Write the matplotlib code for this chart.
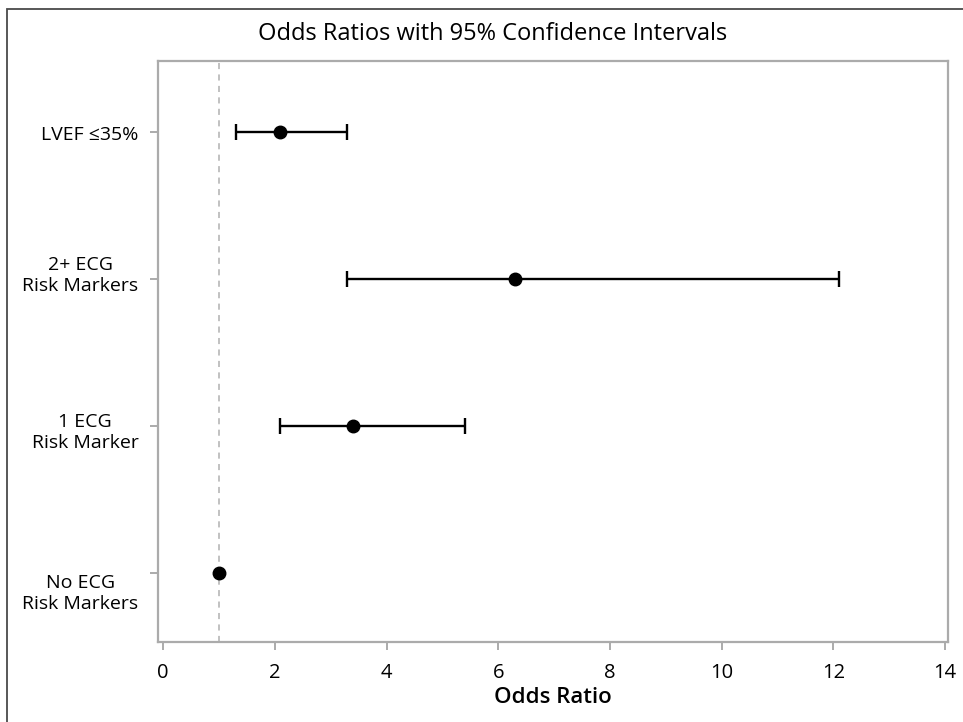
import matplotlib
matplotlib.use("Agg")
import matplotlib.pyplot as plt
from matplotlib.patches import Rectangle
from matplotlib.transforms import ScaledTranslation

plt.rcParams["font.family"] = ["Open Sans", "DejaVu Sans"]

categories = ["LVEF \u226435%", "2+ ECG\nRisk Markers", "1 ECG\nRisk Marker", "No ECG\nRisk Markers"]
odds = [2.1, 6.3, 3.4, 1.0]
ci_low = [1.3, 3.3, 2.1, 1.0]
ci_high = [3.3, 12.1, 5.4, 1.0]
xticks = [0, 2, 4, 6, 8, 10, 12, 14]
# small vertical nudges of the category labels seen in the original (pixels, + is down)
label_shift = [1, -7, 3, 17]

fig = plt.figure(figsize=(9.63, 7.22), dpi=100)
ax = fig.add_axes([158 / 963, 1 - 642 / 722, (948 - 158) / 963, (642 - 61) / 722])

ypos = list(range(len(categories)))
ax.axvline(1.0, color="#b0b0b0", lw=1.1, ls=(0, (4, 3.5)), zorder=1)

# reference group has no interval, so only draw bars where one exists
has_ci = [i for i in ypos if ci_high[i] > ci_low[i]]
ax.errorbar([odds[i] for i in has_ci], has_ci,
            xerr=[[odds[i] - ci_low[i] for i in has_ci], [ci_high[i] - odds[i] for i in has_ci]],
            fmt="none", ecolor="black", elinewidth=1.7, capsize=6, capthick=1.7, zorder=2)
ax.plot(odds, ypos, "o", color="black", ms=9, zorder=3)

ax.set_xlim(-0.09, 14.05)
ax.set_ylim(len(categories) - 1 + 0.47, -0.48)
ax.set_xticks(xticks)
ax.set_yticks(ypos)
ax.set_yticklabels(categories)

for s in ax.spines.values():
    s.set_color("#ababab")
    s.set_linewidth(1.6)
ax.tick_params(axis="both", colors="#ababab", width=1.4, length=6, labelcolor="black")
ax.tick_params(axis="x", labelsize=14.5, pad=9)
ax.tick_params(axis="y", labelsize=14, pad=8)

for t, dy in zip(ax.get_yticklabels(), label_shift):
    t.set_multialignment("center")
    t.set_linespacing(1.25)
    t.set_transform(t.get_transform() + ScaledTranslation(0, -dy / 100, fig.dpi_scale_trans))

ax.set_xlabel("Odds Ratio", fontsize=16, fontweight="semibold", labelpad=3)
fig.text(0.512, 1 - 34 / 722, "Odds Ratios with 95% Confidence Intervals",
         ha="center", va="center", fontsize=17)

fig.patches.append(Rectangle((6.5 / 963, -0.1), 1.2, 1 - 9 / 722 + 0.1,
                             transform=fig.transFigure, fill=False,
                             edgecolor="#4a4a4a", lw=1.3, clip_on=False))

fig.savefig("out.png", dpi=100)
